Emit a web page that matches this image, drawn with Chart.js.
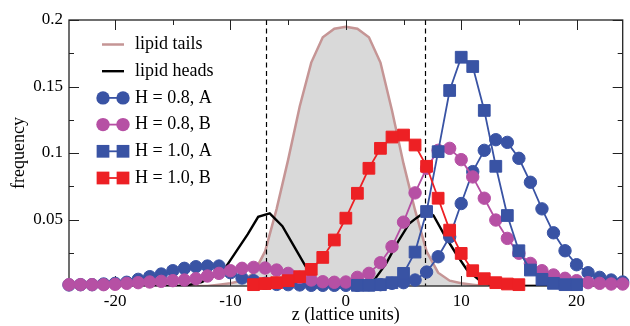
<!DOCTYPE html>
<html>
<head>
<meta charset="utf-8">
<script src="https://cdn.jsdelivr.net/npm/chart.js@4.4.1/dist/chart.umd.min.js"></script>
<style>
  html, body { margin: 0; padding: 0; background: #fff; overflow: hidden; }
  canvas { display: block; }
</style>
</head>
<body>
<canvas id="grafico" width="632" height="326" style="width:632px;height:326px"></canvas>
<script>
// Datos
const zTails = [-24, -12, -11, -10, -9, -8, -7, -6, -5, -4, -3, -2, -1, 0, 1, 2, 3, 4, 5, 6, 7, 8, 9, 10, 11, 12, 24];
const tails = [0, 0, 0.001, 0.002, 0.004, 0.0095, 0.026, 0.058, 0.095, 0.135, 0.168, 0.187, 0.1935, 0.195, 0.1935, 0.187, 0.168, 0.132, 0.092, 0.057, 0.026, 0.010, 0.004, 0.002, 0.001, 0, 0];

const zHeads = [-24, -14.5, -13.5, -12.5, -11.5, -10.5, -9.5, -8.5, -7.6, -6.6, -5.5, -4.5, -3.5, -2.5, -1.5, -0.5,
                0.5, 1.5, 2.5, 3.5, 4.5, 5.5, 6.1, 7.0, 7.6, 8.5, 9.5, 10.5, 11.5, 12.5, 13.5, 24];
const heads = [0, 0, 0.001, 0.003, 0.007, 0.013, 0.026, 0.039, 0.052, 0.0546, 0.045, 0.030, 0.015, 0.004, 0.001, 0,
               0, 0.001, 0.005, 0.017, 0.033, 0.047, 0.051, 0.0566, 0.053, 0.039, 0.025, 0.012, 0.005, 0.001, 0, 0];

const zCircles = [];
for (let z = -24; z <= 24; z++) zCircles.push(z);
const h08A = [0.0008, 0.001, 0.001, 0.0015, 0.002, 0.0028, 0.005, 0.007, 0.009, 0.0115, 0.0133, 0.0145, 0.015, 0.015,
              0.010, 0.006, 0.004, 0.002, 0.0012, 0.001, 0.0008, 0.0005, 0.0005, 0.0005, 0.0005, 0.0005, 0.001, 0.001,
              0.002, 0.0025, 0.0045, 0.0105, 0.022, 0.037, 0.062, 0.086, 0.102, 0.110, 0.108, 0.096, 0.078, 0.058,
              0.040, 0.0265, 0.016, 0.010, 0.0065, 0.0045, 0.003];
const h08B = [0.001, 0.001, 0.001, 0.001, 0.0013, 0.002, 0.0025, 0.003, 0.0035, 0.004, 0.0045, 0.0055, 0.0075, 0.0095,
              0.0115, 0.0133, 0.014, 0.0135, 0.012, 0.0095, 0.0065, 0.0045, 0.0032, 0.0028, 0.003, 0.0065, 0.0095,
              0.0175, 0.0296, 0.048, 0.070, 0.0885, 0.102, 0.1035, 0.095, 0.082, 0.066, 0.0496, 0.0358, 0.0246,
              0.017, 0.0115, 0.0083, 0.0058, 0.004, 0.0025, 0.002, 0.0015, 0.0015];

const zH10A = [1, 2, 3, 4, 5, 6, 7, 8, 9, 10, 11, 12, 13, 14, 15, 16, 17, 18, 19, 20];
const h10A = [0.0005, 0.0005, 0.001, 0.0025, 0.0095, 0.0255, 0.056, 0.101, 0.147, 0.172, 0.165, 0.132, 0.090, 0.053,
              0.0265, 0.012, 0.005, 0.002, 0.001, 0.001];

const zH10B = [-8, -7, -6, -5, -4, -3, -2, -1, 0, 1, 2, 3, 4, 5, 6, 7, 8, 9, 10, 11, 12, 13, 14, 15];
const h10B = [0.001, 0.0018, 0.0025, 0.004, 0.007, 0.0125, 0.0215, 0.0346, 0.051, 0.0697, 0.0885, 0.1035, 0.112,
              0.1135, 0.106, 0.090, 0.066, 0.042, 0.0245, 0.0115, 0.0055, 0.0025, 0.0015, 0.001];

const lineasDiscontinuas = [-6.9, 6.9];

const fuente = 'Liberation Serif, Times New Roman, serif';

function puntos(zs, vals) {
    return zs.map((z, i) => ({ x: z, y: vals[i] }));
}

function serie(label, zs, vals, color, estilo, radio, orden) {
    return {
        label: label,
        data: puntos(zs, vals),
        borderColor: color,
        backgroundColor: color,
        borderWidth: 1.8,
        pointStyle: estilo,
        pointRadius: radio,
        pointBorderWidth: 1,
        pointBorderColor: color,
        pointBackgroundColor: color,
        tension: 0,
        fill: false,
        clip: false,
        order: orden
    };
}

const datasets = [
    {
        label: 'lipid tails',
        data: puntos(zTails, tails),
        borderColor: '#c59595',
        backgroundColor: '#d9d9d9',
        borderWidth: 2.5,
        pointRadius: 0,
        fill: 'origin',
        tension: 0,
        order: 6
    },
    {
        label: 'lipid heads',
        data: puntos(zHeads, heads),
        borderColor: '#000000',
        borderWidth: 2.4,
        pointRadius: 0,
        fill: false,
        tension: 0,
        order: 5
    },
    serie('H = 0.8, A', zCircles, h08A, '#3953a4', 'circle', 6.2, 4),
    serie('H = 0.8, B', zCircles, h08B, '#b650a4', 'circle', 6.2, 3),
    serie('H = 1.0, A', zH10A, h10A, '#3953a4', 'rect', 8.3, 2),
    serie('H = 1.0, B', zH10B, h10B, '#ed2024', 'rect', 8.3, 1)
];

// Marco, marcas hacia dentro y lineas discontinuas (encima del relleno gris)
const marcoPlugin = {
    id: 'marco',
    afterDatasetDraw(chart, args) {
        if (args.index !== 0) return;
        const ctx = chart.ctx;
        const a = chart.chartArea;
        const x = chart.scales.x;
        const y = chart.scales.y;
        ctx.save();

        ctx.strokeStyle = '#000';
        ctx.lineWidth = 1.2;
        ctx.setLineDash([5, 3.5]);
        lineasDiscontinuas.forEach(function (z) {
            const px = Math.round(x.getPixelForValue(z)) + 0.5;
            ctx.beginPath();
            ctx.moveTo(px, a.top);
            ctx.lineTo(px, a.bottom);
            ctx.stroke();
        });
        ctx.setLineDash([]);

        ctx.strokeStyle = '#222';
        ctx.lineWidth = 1.3;
        ctx.strokeRect(a.left, a.top, a.right - a.left, a.bottom - a.top);

        ctx.lineWidth = 1;
        x.ticks.forEach(function (t) {
            const largo = Math.round(t.value) % 10 === 0 ? 10 : 5;
            const px = Math.round(x.getPixelForValue(t.value)) + 0.5;
            ctx.beginPath();
            ctx.moveTo(px, a.bottom); ctx.lineTo(px, a.bottom - largo);
            ctx.moveTo(px, a.top); ctx.lineTo(px, a.top + largo);
            ctx.stroke();
        });
        y.ticks.forEach(function (t) {
            const largo = Math.round(t.value * 1000) % 50 === 0 ? 10 : 5;
            const py = Math.round(y.getPixelForValue(t.value)) + 0.5;
            ctx.beginPath();
            ctx.moveTo(a.left, py); ctx.lineTo(a.left + largo, py);
            ctx.moveTo(a.right, py); ctx.lineTo(a.right - largo, py);
            ctx.stroke();
        });
        ctx.restore();
    }
};

// Leyenda dentro del area del grafico
const leyendaPlugin = {
    id: 'leyenda',
    afterDatasetsDraw(chart) {
        const ctx = chart.ctx;
        ctx.save();
        chart.data.datasets.forEach(function (ds, i) {
            const yy = 44.5 + i * 26.7;
            ctx.strokeStyle = ds.borderColor;
            ctx.lineWidth = ds.borderWidth;
            ctx.beginPath();
            ctx.moveTo(102, yy);
            ctx.lineTo(124, yy);
            ctx.stroke();
            if (ds.pointRadius > 0) {
                ctx.fillStyle = ds.borderColor;
                [103, 123].forEach(function (px) {
                    ctx.beginPath();
                    if (ds.pointStyle === 'circle') {
                        ctx.arc(px, yy, ds.pointRadius + 0.5, 0, Math.PI * 2);
                    } else {
                        const s = ds.pointRadius * Math.SQRT1_2 + 0.5;
                        ctx.rect(px - s, yy - s, 2 * s, 2 * s);
                    }
                    ctx.fill();
                });
            }
            ctx.fillStyle = '#000';
            ctx.font = '18px ' + fuente;
            ctx.textBaseline = 'middle';
            ctx.textAlign = 'left';
            ctx.fillText(ds.label, 135, yy);
        });
        ctx.restore();
    }
};

const ctx = document.getElementById('grafico');
new Chart(ctx, {
    type: 'line',
    data: { datasets: datasets },
    options: {
        responsive: false,
        animation: false,
        layout: { padding: { top: 20, right: 1, left: 0, bottom: 0 } },
        plugins: {
            legend: { display: false },
            tooltip: { enabled: false }
        },
        scales: {
            x: {
                type: 'linear',
                min: -24,
                max: 24,
                grid: { display: false, drawTicks: false },
                border: { display: false },
                ticks: {
                    stepSize: 5,
                    includeBounds: false,
                    autoSkip: false,
                    maxRotation: 0,
                    padding: 5,
                    color: '#000',
                    font: { family: fuente, size: 17 },
                    callback: function (v) {
                        return Math.round(v) % 10 === 0 ? String(Math.round(v)) : '';
                    }
                },
                title: {
                    display: true,
                    text: 'z (lattice units)',
                    color: '#000',
                    font: { family: fuente, size: 18 },
                    padding: { top: 0, bottom: 0 }
                },
                afterFit: function (s) { s.height = 40; }
            },
            y: {
                min: 0,
                max: 0.2,
                grid: { display: false, drawTicks: false },
                border: { display: false },
                ticks: {
                    stepSize: 0.025,
                    includeBounds: false,
                    autoSkip: false,
                    padding: 6,
                    color: '#000',
                    font: { family: fuente, size: 17 },
                    callback: function (v) {
                        const m = Math.round(v * 1000);
                        if (m === 0 || m % 50 !== 0) return '';
                        return String(m / 1000);
                    }
                },
                title: {
                    display: true,
                    text: 'frequency',
                    color: '#000',
                    font: { family: fuente, size: 18 },
                    padding: { top: 8, bottom: 0 }
                },
                afterFit: function (s) { s.width = 69; }
            }
        }
    },
    plugins: [marcoPlugin, leyendaPlugin]
});
</script>
</body>
</html>
